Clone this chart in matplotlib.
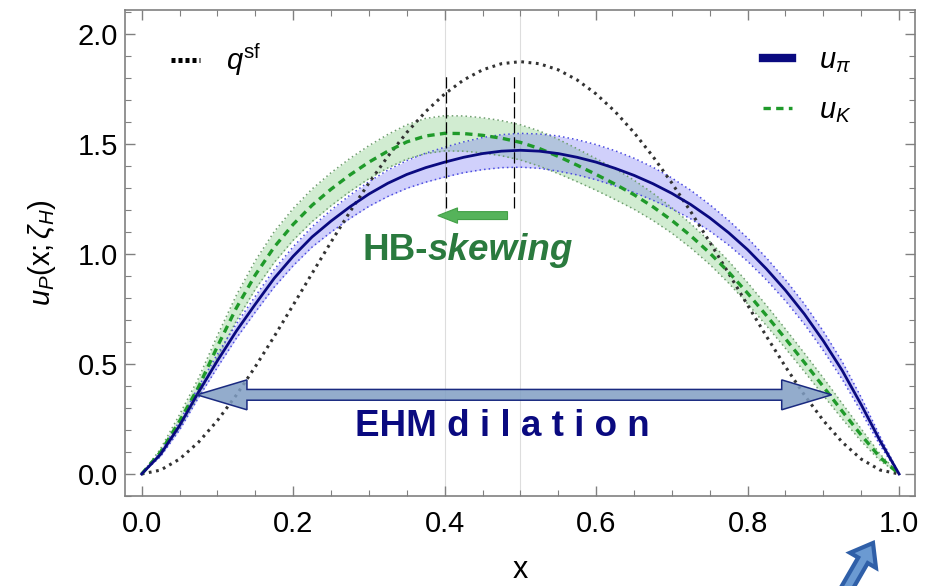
import numpy as np
import matplotlib
matplotlib.use('Agg')
import matplotlib.pyplot as plt
from matplotlib.patches import Polygon, FancyArrow
from matplotlib.lines import Line2D
from matplotlib.ticker import MultipleLocator, FormatStrFormatter

plt.rcParams['font.family'] = ['Liberation Sans', 'DejaVu Sans']
plt.rcParams['mathtext.fontset'] = 'custom'
plt.rcParams['mathtext.rm'] = 'Liberation Sans'
plt.rcParams['mathtext.it'] = 'Liberation Sans:italic'
plt.rcParams['mathtext.bf'] = 'Liberation Sans:bold'

# ── data (x grid step 0.025) ──
x = np.linspace(0.0, 1.0, 41)

# scale-free profile q^sf
q_sf = [0.0, 0.0178, 0.0677, 0.1444, 0.243, 0.3589, 0.4877, 0.6253, 0.768,
        0.9122, 1.0547, 1.1925, 1.323, 1.4438, 1.5527, 1.648, 1.728, 1.7916,
        1.8377, 1.8656, 1.875, 1.8656, 1.8377, 1.7916, 1.728, 1.648, 1.5527,
        1.4438, 1.323, 1.1925, 1.0547, 0.9122, 0.768, 0.6253, 0.4877, 0.3589,
        0.243, 0.1444, 0.0677, 0.0178, 0.0]

# pion valence distribution
u_pi = [0.0, 0.09, 0.22, 0.372, 0.515, 0.65, 0.772, 0.89, 0.99, 1.078,
        1.15, 1.215, 1.273, 1.322, 1.362, 1.393, 1.418, 1.44, 1.457, 1.468,
        1.472, 1.468, 1.457, 1.44, 1.418, 1.39, 1.358, 1.32, 1.276, 1.225,
        1.165, 1.097, 1.02, 0.932, 0.835, 0.727, 0.605, 0.47, 0.315, 0.15, 0.0]
u_pi_err = [0.0, 0.01, 0.02, 0.025, 0.03, 0.033, 0.036, 0.04, 0.043, 0.046,
            0.05, 0.053, 0.056, 0.06, 0.063, 0.066, 0.068, 0.07, 0.073, 0.075,
            0.077, 0.078, 0.08, 0.08, 0.08, 0.08, 0.078, 0.075, 0.07, 0.065,
            0.06, 0.056, 0.053, 0.05, 0.048, 0.046, 0.044, 0.04, 0.033, 0.02, 0.0]

# kaon valence distribution
u_K = [0.0, 0.10, 0.24, 0.395, 0.58, 0.755, 0.905, 1.032, 1.135, 1.222,
       1.295, 1.36, 1.418, 1.468, 1.51, 1.537, 1.549, 1.548, 1.54, 1.527,
       1.508, 1.48, 1.444, 1.404, 1.362, 1.318, 1.27, 1.215, 1.153, 1.083,
       1.005, 0.918, 0.822, 0.72, 0.615, 0.507, 0.397, 0.285, 0.177, 0.075, 0.0]
u_K_err = [0.0, 0.015, 0.03, 0.04, 0.05, 0.058, 0.065, 0.07, 0.072, 0.074,
           0.075, 0.075, 0.075, 0.076, 0.078, 0.08, 0.08, 0.08, 0.08, 0.08,
           0.08, 0.08, 0.078, 0.075, 0.072, 0.07, 0.066, 0.062, 0.058, 0.055,
           0.052, 0.05, 0.048, 0.046, 0.044, 0.042, 0.04, 0.035, 0.028, 0.015, 0.0]

# peak positions (kaon, pion) and the vertical span of the markers
peak_x = [0.402, 0.491]
peak_span = (1.21, 1.824)

# annotation arrows
skew_arrow = (0.483, 0.391, 1.175)     # x_from, x_to, y
ehm_arrow = (0.073, 0.911, 0.36)       # x_left, x_right, y

u_pi = np.array(u_pi); u_pi_err = np.array(u_pi_err)
u_K = np.array(u_K); u_K_err = np.array(u_K_err)

NAVY = '#0A0A80'
GREEN = '#1F9A2A'

fig = plt.figure(figsize=(9.28, 5.86), dpi=100)
ax = fig.add_axes([0.1347, 0.1536, 0.8513, 0.8294])

# light gridlines
for gx in [0.4, 0.5]:
    ax.axvline(gx, color='#DDDDDD', lw=0.8, zorder=0)

# bands
ax.fill_between(x, u_K - u_K_err, u_K + u_K_err, color='#7CCB7C', alpha=0.35, lw=0, zorder=1)
ax.fill_between(x, u_pi - u_pi_err, u_pi + u_pi_err, color='#7A7AF5', alpha=0.35, lw=0, zorder=1)
for sgn in (-1, 1):
    ax.plot(x, u_K + sgn * u_K_err, color='#6E9E6E', lw=1.1, ls=(0, (1, 2)), zorder=2)
    ax.plot(x, u_pi + sgn * u_pi_err, color='#4A4AE0', lw=1.1, ls=(0, (1, 2)), zorder=2)

# curves
ax.plot(x, q_sf, color='#333333', lw=2.2, ls=(0, (0.9, 1.5)), zorder=3)
ax.plot(x, u_K, color=GREEN, lw=2.4, ls=(0, (2.2, 1.6)), zorder=4)
ax.plot(x, u_pi, color=NAVY, lw=2.0, zorder=5)

# peak markers
ax.vlines(peak_x, peak_span[0], peak_span[1], colors='black', lw=0.9,
          linestyles=(0, (9, 3)), zorder=6)

# HB-skewing arrow and label
xs0, xs1, ys = skew_arrow
ax.add_patch(FancyArrow(xs0, ys, xs1 - xs0, 0, width=0.036, head_width=0.07,
                        head_length=0.026, length_includes_head=True,
                        facecolor='#55B35A', edgecolor='#43A047', lw=0.8, zorder=7))
t1 = ax.text(0.291, 1.014, 'HB-', color='#2A7A3E', fontsize=26.5, fontweight='bold',
             ha='left', va='center', zorder=8)
ax.annotate('skewing', xy=(1, 0), xycoords=t1, va='bottom', ha='left',
            color='#2A7A3E', fontsize=26.5, fontweight='bold', fontstyle='italic', zorder=8)


# EHM dilation double arrow
def double_block_arrow(ax, x0, x1, y, shaft_h, head_h, head_l, **kw):
    verts = [(x0, y), (x0 + head_l, y + head_h / 2), (x0 + head_l, y + shaft_h / 2),
             (x1 - head_l, y + shaft_h / 2), (x1 - head_l, y + head_h / 2), (x1, y),
             (x1 - head_l, y - head_h / 2), (x1 - head_l, y - shaft_h / 2),
             (x0 + head_l, y - shaft_h / 2), (x0 + head_l, y - head_h / 2)]
    ax.add_patch(Polygon(verts, closed=True, **kw))


xe0, xe1, ye = ehm_arrow
double_block_arrow(ax, xe0, xe1, ye, 0.049, 0.136, 0.066,
                   facecolor=(0.50, 0.62, 0.77, 0.85), edgecolor='#1A2A80', lw=1.1, zorder=7)
ax.text(0.4763, 0.218, 'EHM d i l a t i o n', color='#0A0A80', fontsize=26.5,
        fontweight='bold', ha='center', va='center', zorder=8)

# legends
leg1 = ax.legend(handles=[Line2D([], [], color='black', lw=3.6, ls=(0, (0.8, 0.6)))],
                 labels=[r'$q^{\rm sf}$'], loc='upper left', bbox_to_anchor=(0.058, 0.935),
                 frameon=False, fontsize=21, handlelength=1.0, handletextpad=0.9,
                 borderpad=0, borderaxespad=0)
ax.add_artist(leg1)
ax.legend(handles=[Line2D([], [], color=NAVY, lw=6),
                   Line2D([], [], color=GREEN, lw=2.4, ls=(0, (2.2, 1.6)))],
          labels=[r'$u_\pi$', r'$u_K$'], loc='upper left', bbox_to_anchor=(0.808, 0.925),
          frameon=False, fontsize=21, handlelength=1.0, handletextpad=0.9,
          labelspacing=0.72, borderpad=0, borderaxespad=0)

# axes styling
ax.set_xlim(-0.022, 1.021)
ax.set_ylim(-0.1, 2.11)
ax.xaxis.set_major_locator(MultipleLocator(0.2))
ax.xaxis.set_minor_locator(MultipleLocator(0.05))
ax.yaxis.set_major_locator(MultipleLocator(0.5))
ax.yaxis.set_minor_locator(MultipleLocator(0.1))
ax.xaxis.set_major_formatter(FormatStrFormatter('%.1f'))
ax.yaxis.set_major_formatter(FormatStrFormatter('%.1f'))
ax.tick_params(which='both', direction='in', top=True, right=True, colors='#808080',
               labelcolor='black', labelsize=21)
ax.tick_params(which='major', length=7, width=1.0)
ax.tick_params(which='minor', length=4, width=0.8)
ax.tick_params(axis='x', pad=10)
ax.tick_params(axis='y', pad=5)
for sp in ax.spines.values():
    sp.set_color('#808080')
    sp.set_linewidth(1.2)

ax.set_xlabel('x', fontsize=22, labelpad=12)
ax.set_ylabel(r'$u_P(\mathrm{x};\zeta_H)$', fontsize=21, labelpad=14)

# pointer arrow below the frame
fig.add_artist(FancyArrow(8.40, -0.14, 0.33, 0.57, width=0.11, head_width=0.30,
                          head_length=0.2, length_includes_head=True,
                          facecolor='#6B9AD2', edgecolor='#2F5FA8', lw=3,
                          transform=fig.dpi_scale_trans))

fig.savefig('out.png', dpi=100)
